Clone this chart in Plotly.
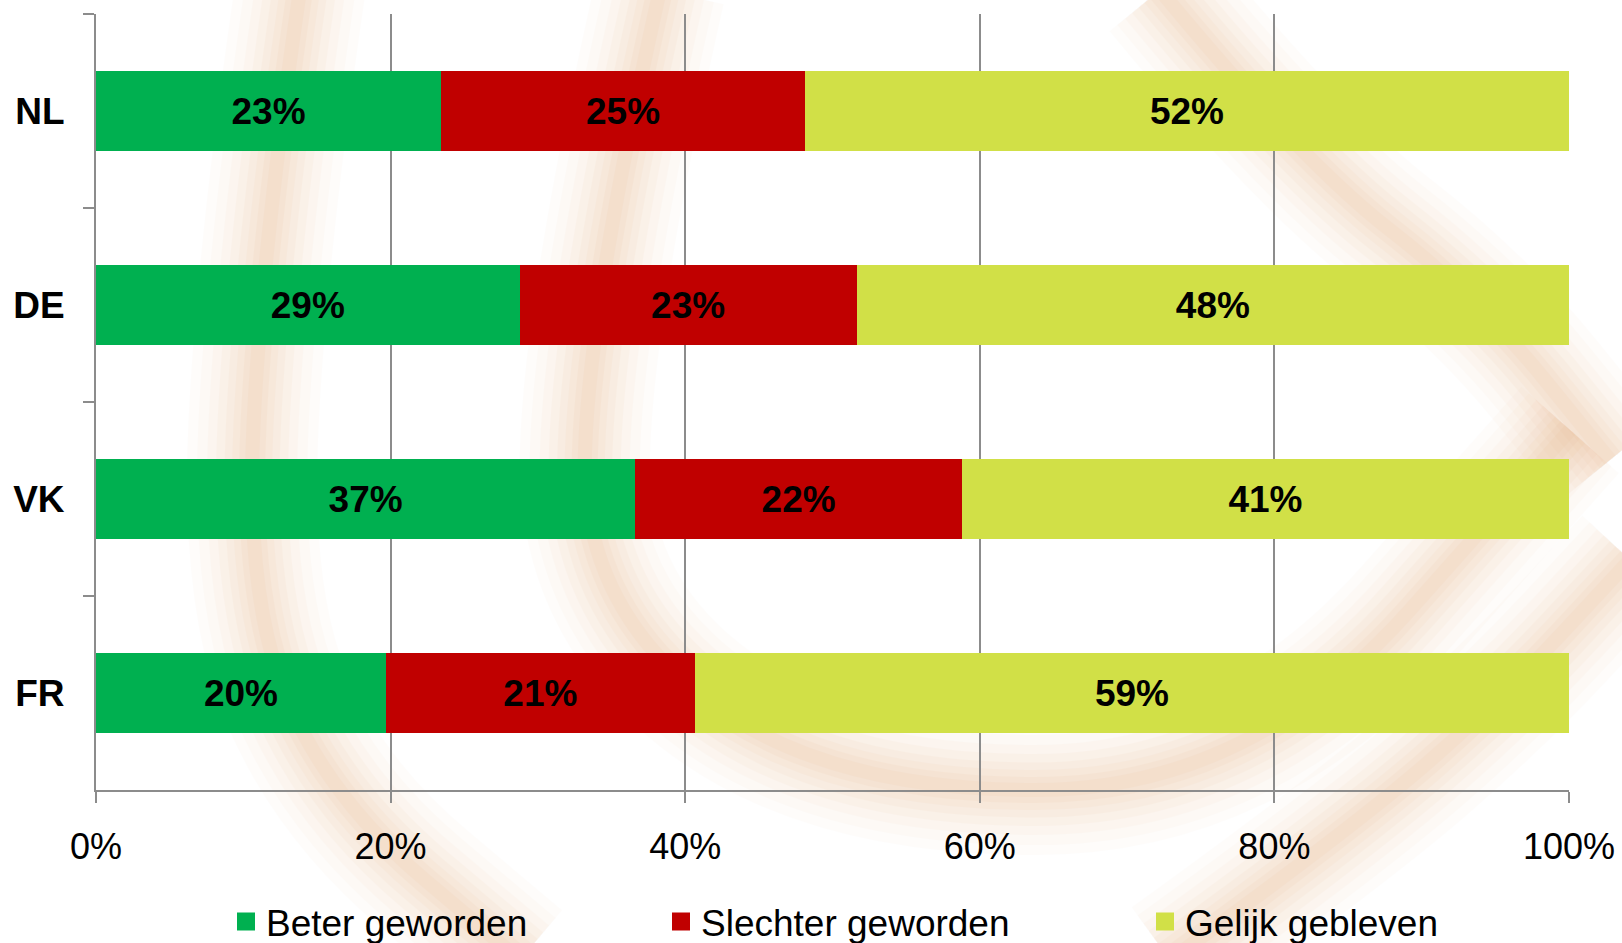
import plotly.graph_objects as go

# ---- data ----
countries = ["NL", "DE", "VK", "FR"]
beter = [23.43, 28.76, 36.61, 19.68]       # Beter geworden
slechter = [24.70, 22.88, 22.18, 20.98]    # Slechter geworden
gelijk = [51.87, 48.36, 41.21, 59.34]      # Gelijk gebleven
series_names = ["Beter geworden", "Slechter geworden", "Gelijk gebleven"]
x_ticks = [0, 20, 40, 60, 80, 100]
x_ticklabels = ["0%", "20%", "40%", "60%", "80%", "100%"]

# ---- style ----
colors = ["#00B050", "#C00000", "#D1E047"]
grid = "#8C8C8C"
FONT = "Arial, Liberation Sans, sans-serif"

W, H = 1622, 943
ML, MR, MT, MB = 96, 53, 14, 153
PW, PH = W - ML - MR, H - MT - MB

fig = go.Figure()
for vals, name, col in zip([beter, slechter, gelijk], series_names, colors):
    fig.add_trace(go.Bar(
        y=countries, x=vals, orientation="h", name=name,
        marker=dict(color=col, line=dict(width=0)),
        texttemplate="%{x:.0f}%", textposition="inside",
        insidetextanchor="middle", textangle=0,
        textfont=dict(family=FONT, size=37, color="black", weight="bold"),
        showlegend=False, hoverinfo="skip",
    ))

# legend entries (larger square symbols), one legend per entry
legend_keys = ["legend", "legend2", "legend3"]
for name, col, lk in zip(series_names, colors, legend_keys):
    fig.add_trace(go.Scatter(
        x=[None], y=[None], mode="markers", name=name,
        marker=dict(symbol="square", size=16, color=col, line=dict(color=col, width=2)),
        legend=lk, showlegend=True, hoverinfo="skip",
    ))

def px2paper(px, py):
    return (px - ML) / PW, (H - MB - py) / PH

# soft watermark swirls (decorative background)
swirls = [
    [(300, -10), (262, 250), (245, 600), (330, 800), (520, 960)],
    [(660, -10), (590, 300), (580, 600), (820, 790), (1250, 790), (1570, 430)],
    [(1160, -10), (1300, 160), (1480, 300), (1610, 460)],
    [(1170, 960), (1350, 830), (1500, 700), (1630, 560)],
]

def smooth_path(pts):
    p = [px2paper(*q) for q in pts]
    d = "M %.4f,%.4f" % p[0]
    for i in range(1, len(p) - 1):
        mx = (p[i][0] + p[i + 1][0]) / 2
        my = (p[i][1] + p[i + 1][1]) / 2
        d += " Q %.4f,%.4f %.4f,%.4f" % (p[i][0], p[i][1], mx, my)
    d += " L %.4f,%.4f" % p[-1]
    return d

shapes = []
for pts in swirls:
    path = smooth_path(pts)
    for w_, op in [(130, 0.03), (110, 0.035), (90, 0.04), (72, 0.05), (55, 0.06),
                   (40, 0.06), (26, 0.07), (14, 0.07)]:
        shapes.append(dict(type="path", path=path, xref="paper", yref="paper",
                           line=dict(color="#E8B080", width=w_), opacity=op,
                           layer="below"))

legend_common = dict(orientation="h", yanchor="middle", y=-0.17, xanchor="left",
                     font=dict(family=FONT, size=37, color="black"),
                     bgcolor="rgba(0,0,0,0)", itemsizing="trace")
lx = [246, 681, 1165]

fig.update_layout(
    width=W, height=H,
    margin=dict(l=ML, r=MR, t=MT, b=MB, pad=0, autoexpand=False),
    barmode="stack", bargap=0.59,
    paper_bgcolor="white", plot_bgcolor="rgba(0,0,0,0)",
    font=dict(family=FONT, color="black"),
    shapes=shapes,
    legend=dict(x=(lx[0] - 20 - ML) / PW, **legend_common),
    legend2=dict(x=(lx[1] - 20 - ML) / PW, **legend_common),
    legend3=dict(x=(lx[2] - 20 - ML) / PW, **legend_common),
    xaxis=dict(range=[0, 100], tickmode="array", tickvals=x_ticks, ticktext=x_ticklabels,
               showgrid=True, gridcolor=grid, gridwidth=1.6,
               showline=True, linecolor=grid, linewidth=2,
               ticks="outside", ticklen=11, tickwidth=2, tickcolor=grid,
               zeroline=False, ticklabelstandoff=13,
               tickfont=dict(family=FONT, size=36, color="black"),
               fixedrange=True),
    yaxis=dict(type="category", categoryorder="array", categoryarray=countries,
               autorange="reversed", tickson="boundaries",
               showgrid=False, showline=True, linecolor=grid, linewidth=2,
               ticks="outside", ticklen=11, tickwidth=2, tickcolor=grid,
               ticklabelstandoff=22,
               tickfont=dict(family=FONT, size=37, color="black", weight="bold"),
               fixedrange=True),
)

fig.write_html("out.html", config={"displayModeBar": False},
               post_script="document.body.style.margin='0';document.body.style.overflow='hidden';")
